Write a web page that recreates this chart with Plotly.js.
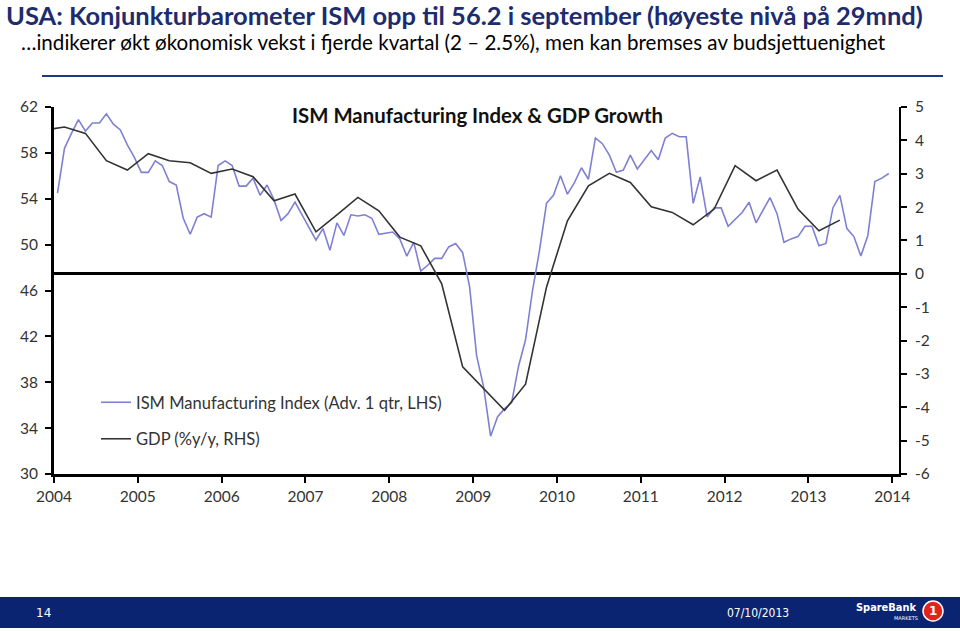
<!DOCTYPE html>
<html>
<head>
<meta charset="utf-8">
<script src="https://cdn.plot.ly/plotly-3.0.1.min.js"></script>
<style>
html,body{margin:0;padding:0;background:#ffffff;overflow:hidden;}
#chart{width:960px;height:631px;}
</style>
</head>
<body>
<div id="chart"></div>
<script>
// ---------------- DATA ----------------
// ISM Manufacturing Index, advanced 1 quarter, monthly, plotted Jan 2004 .. Dec 2013 (LHS)
const ismFirstYear = 2004;
const ismValues = [
  54.5, 58.4, 59.7, 60.9, 59.9, 60.6, 60.6, 61.4, 60.5, 60.0, 58.7, 57.6,
  56.3, 56.3, 57.3, 56.9, 55.5, 55.2, 52.3, 50.9, 52.4, 52.7, 52.4, 56.9,
  57.3, 56.9, 55.1, 55.1, 55.8, 54.3, 55.2, 53.9, 52.1, 52.7, 53.7, 52.6,
  51.5, 50.4, 51.4, 49.5, 51.9, 50.8, 52.6, 52.5, 52.6, 52.3, 50.9, 51.0,
  51.1, 50.5, 49.0, 50.2, 47.7, 48.2, 48.8, 48.8, 49.8, 50.1, 49.3, 46.3,
  40.3, 37.6, 33.3, 35.0, 35.7, 36.2, 39.4, 41.7, 46.0, 49.5, 53.6, 54.3,
  56.0, 54.4, 55.4, 56.7, 55.7, 59.3, 58.8, 57.8, 56.3, 56.5, 57.8, 56.6,
  57.4, 58.2, 57.4, 59.3, 59.7, 59.4, 59.4, 53.6, 55.9, 52.4, 53.2, 53.2,
  51.6, 52.2, 52.8, 53.7, 51.9, 53.0, 54.1, 52.7, 50.2, 50.5, 50.7, 51.6,
  51.6, 49.9, 50.1, 53.2, 54.3, 51.4, 50.7, 49.0, 50.8, 55.5, 55.8, 56.2
];
// GDP %y/y, quarterly, 2003Q4 .. 2013Q2 (RHS)
const gdpFirstQuarterStart = 2003.75; // 2003 Q4
const gdpValues = [
  4.30,
  4.40, 4.21, 3.39, 3.11,
  3.60, 3.39, 3.33, 3.01,
  3.14, 2.91, 2.19, 2.39,
  1.26, 1.77, 2.29, 1.89,
  1.10, 0.84, -0.30, -2.79,
  -3.45, -4.09, -3.31, -0.40,
  1.59, 2.64, 3.01, 2.74,
  2.01, 1.84, 1.47, 1.94,
  3.24, 2.79, 3.11, 1.94,
  1.29, 1.61
];
const yearTicks = [2004, 2005, 2006, 2007, 2008, 2009, 2010, 2011, 2012, 2013, 2014];
const leftTicks = [30, 34, 38, 42, 46, 50, 54, 58, 62];
const rightTicks = [-6, -5, -4, -3, -2, -1, 0, 1, 2, 3, 4, 5];

const ismName = "ISM Manufacturing Index (Adv. 1 qtr, LHS)";
const gdpName = "GDP (%y/y, RHS)";
const mainTitle = "USA: Konjunkturbarometer ISM opp til 56.2 i september (høyeste nivå på 29mnd)";
const subTitle = "\u2026indikerer økt økonomisk vekst i fjerde kvartal (2 \u2013 2.5%), men kan bremses av budsjettuenighet";
const chartTitle = "ISM Manufacturing Index & GDP Growth";
const pageNumber = "14";
const dateText = "07/10/2013";

// mid-month / mid-quarter dates
const ismDates = ismValues.map((_, i) => ismFirstYear + (i + 0.5) / 12);
const gdpDates = gdpValues.map((_, i) => gdpFirstQuarterStart + (i + 0.5) / 4);

// ---------------- LAYOUT HELPERS ----------------
const W = 960, H = 631;
const M = {l: 54, r: 61, t: 107, b: 157};
const PW = W - M.l - M.r, PH = H - M.t - M.b;
const px = x => (x - M.l) / PW;          // page px -> paper x
const py = y => (H - M.b - y) / PH;      // page px -> paper y

const FONT = "Lato, 'Open Sans', sans-serif";
const ctx = document.createElement('canvas').getContext('2d');
function fit(text, weight, target, family) {
  ctx.font = weight + " 100px " + (family || FONT);
  return 100 * target / ctx.measureText(text).width;
}
const titleSize = fit(mainTitle, "bold", 918);
const subSize = fit(subTitle, "normal", 866);
const chartTitleSize = fit(chartTitle, "bold", 372);
const legendSize = fit(ismName, "normal", 306);
const tickSize = fit("2004", "normal", 36);
const FOOT = "'DejaVu Sans Condensed', 'DejaVu Sans', sans-serif";
const brandSize = fit("SpareBank", "bold", 60, FOOT);

const ismColor = "#7f80d3";
const gdpColor = "#333333";
const axisColor = "#000000";
const tickFontColor = "#333333";

const traces = [
  {
    x: ismDates, y: ismValues, name: ismName, type: "scatter", mode: "lines",
    line: {color: ismColor, width: 1.6}, yaxis: "y", legendgroup: "a"
  },
  {
    x: gdpDates, y: gdpValues, name: gdpName, type: "scatter", mode: "lines",
    line: {color: gdpColor, width: 1.6}, yaxis: "y2", legendgroup: "b"
  }
];

const layout = {
  width: W, height: H,
  margin: M,
  paper_bgcolor: "#ffffff", plot_bgcolor: "#ffffff",
  font: {family: FONT, color: tickFontColor, size: tickSize},
  showlegend: true,
  legend: {
    x: px(96), y: py(385), xanchor: "left", yanchor: "top",
    bgcolor: "rgba(0,0,0,0)", borderwidth: 0,
    font: {family: FONT, size: legendSize, color: "#333333"},
    traceorder: "grouped", tracegroupgap: 12
  },
  xaxis: {
    range: [2004, 2014.08], tickmode: "array", tickvals: yearTicks,
    ticktext: yearTicks.map(String),
    showline: true, linecolor: axisColor, linewidth: 3,
    ticks: "outside", ticklen: 6, tickwidth: 2, tickcolor: axisColor,
    showgrid: false, zeroline: false, fixedrange: true,
    tickfont: {family: FONT, size: tickSize, color: tickFontColor}
  },
  yaxis: {
    range: [30, 62], tickmode: "array", tickvals: leftTicks,
    showline: true, linecolor: axisColor, linewidth: 3,
    ticks: "outside", ticklen: 6, tickwidth: 2, tickcolor: axisColor,
    showgrid: false, zeroline: false, ticklabelstandoff: 4,
    tickfont: {family: FONT, size: tickSize, color: tickFontColor}
  },
  yaxis2: {
    range: [-6, 5], tickmode: "array", tickvals: rightTicks,
    ticktext: rightTicks.map(v => String(v)),
    overlaying: "y", side: "right",
    showline: true, linecolor: axisColor, linewidth: 2,
    ticks: "outside", ticklen: 6, tickwidth: 2, tickcolor: axisColor,
    showgrid: false, zeroline: true, zerolinecolor: "#000000", zerolinewidth: 3,
    ticklabelstandoff: 5,
    tickfont: {family: FONT, size: tickSize, color: tickFontColor}
  },
  shapes: [
    {type: "line", xref: "paper", yref: "paper", x0: px(42), x1: px(943), y0: py(76), y1: py(76),
     line: {color: "#1f3a7a", width: 2}},
    {type: "rect", xref: "paper", yref: "paper", x0: px(0), x1: px(960), y0: py(597), y1: py(628),
     fillcolor: "#0b2471", line: {width: 0}, layer: "above"},
    {type: "circle", xref: "paper", yref: "paper", x0: px(923), x1: px(943), y0: py(601), y1: py(621),
     fillcolor: "#e2231a", line: {color: "#ffffff", width: 1.5}, layer: "above"}
  ],
  annotations: [
    {text: "<b>" + mainTitle + "</b>", xref: "paper", yref: "paper", x: px(4), y: py(15),
     xanchor: "left", yanchor: "middle", showarrow: false,
     font: {family: FONT, size: titleSize, color: "#1c2c6e"}},
    {text: subTitle, xref: "paper", yref: "paper", x: px(19), y: py(42),
     xanchor: "left", yanchor: "middle", showarrow: false,
     font: {family: FONT, size: subSize, color: "#000000"}},
    {text: "<b>" + chartTitle + "</b>", xref: "paper", yref: "paper", x: px(477), y: py(115),
     xanchor: "center", yanchor: "middle", showarrow: false,
     font: {family: FONT, size: chartTitleSize, color: "#111111"}},
    {text: pageNumber, xref: "paper", yref: "paper", x: px(43), y: py(613),
     xanchor: "center", yanchor: "middle", showarrow: false,
     font: {family: "'DejaVu Sans', sans-serif", size: 12, color: "#ffffff"}},
    {text: dateText, xref: "paper", yref: "paper", x: px(758), y: py(613),
     xanchor: "center", yanchor: "middle", showarrow: false,
     font: {family: FOOT, size: 12, color: "#ffffff"}},
    {text: "<b>SpareBank</b>", xref: "paper", yref: "paper", x: px(886), y: py(607),
     xanchor: "center", yanchor: "middle", showarrow: false,
     font: {family: FOOT, size: brandSize, color: "#ffffff"}},
    {text: "MARKETS", xref: "paper", yref: "paper", x: px(906), y: py(618),
     xanchor: "center", yanchor: "middle", showarrow: false,
     font: {family: "'DejaVu Sans', sans-serif", size: 5, color: "#ffffff"}},
    {text: "<b>1</b>", xref: "paper", yref: "paper", x: px(933), y: py(611),
     xanchor: "center", yanchor: "middle", showarrow: false,
     font: {family: "'DejaVu Sans', sans-serif", size: 12, color: "#ffffff"}}
  ]
};

Plotly.newPlot("chart", traces, layout, {staticPlot: true, displayModeBar: false});
</script>
</body>
</html>
